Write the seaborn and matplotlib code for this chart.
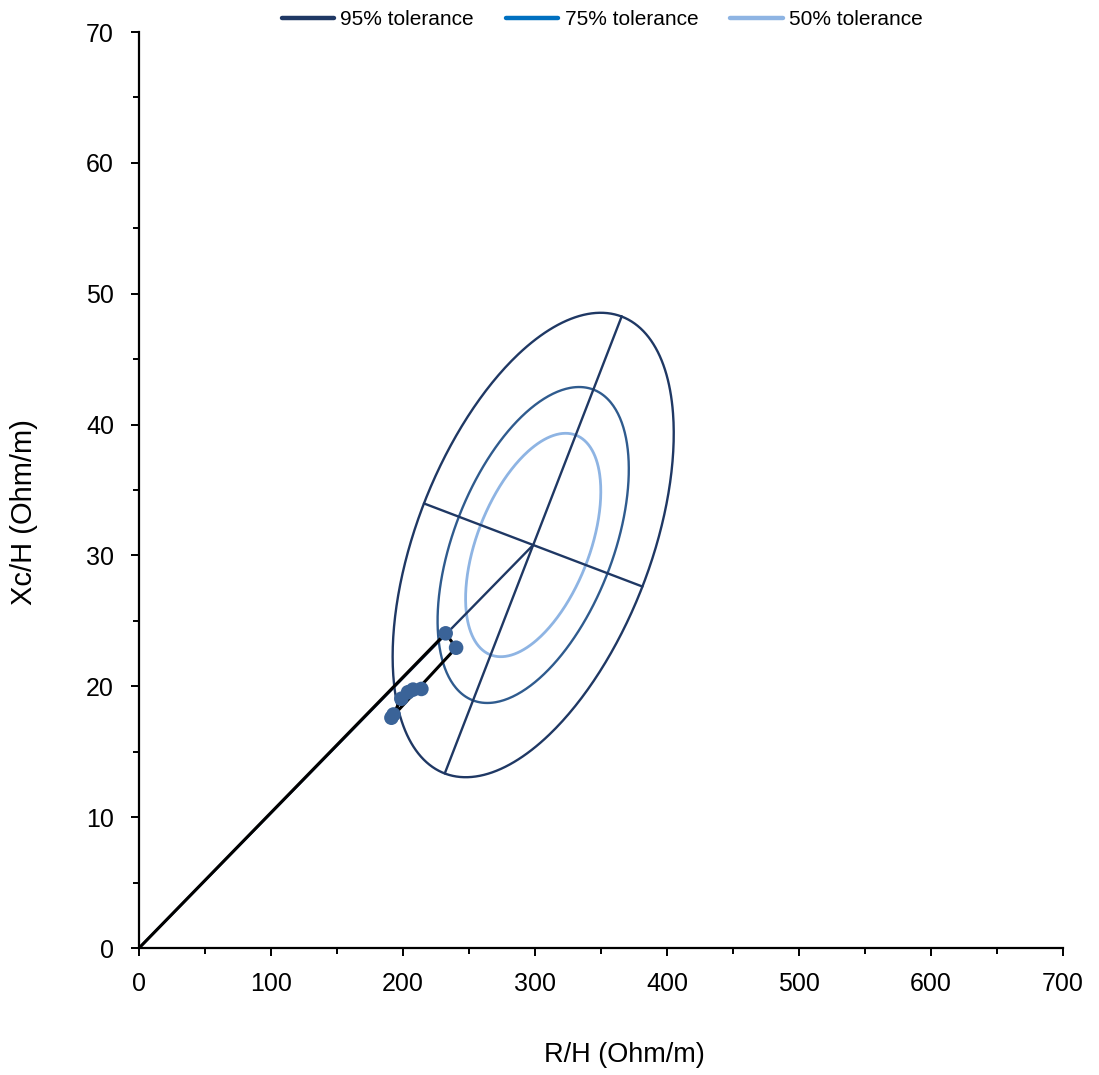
import numpy as np
import pandas as pd
import matplotlib
matplotlib.use("Agg")
import matplotlib.pyplot as plt
from matplotlib.lines import Line2D
from matplotlib.ticker import MultipleLocator
import seaborn as sns

# Reference population (R/H, Xc/H) statistics used for the tolerance ellipses
ref_mean_R = 298.6
ref_mean_Xc = 30.8
ref_sd_R = 43.5
ref_sd_Xc = 7.25
ref_corr = 0.48

tolerance_levels = [0.95, 0.75, 0.50]
tolerance_labels = ["95% tolerance", "75% tolerance", "50% tolerance"]
ellipse_colors = ["#1F3864", "#2F5B8E", "#8EB4E3"]
legend_colors = ["#1F3864", "#0070C0", "#8EB4E3"]

# Subject measurements (R/H, Xc/H) in Ohm/m
subject_R = [191.2, 192.8, 198.7, 203.8, 207.6, 213.9, 240.2, 232.3]
subject_Xc = [17.6, 17.85, 19.05, 19.55, 19.75, 19.8, 22.95, 24.05]

# Vector path: origin -> last visit -> previous -> first visit
path_R = [0.0, 232.3, 240.2, 191.2]
path_Xc = [0.0, 24.05, 22.95, 17.6]
# Follow-up trajectory through the clustered visits
trail_R = [191.2, 198.7, 203.8, 207.6, 213.9]
trail_Xc = [17.6, 19.05, 19.55, 19.75, 19.8]

sns.set_theme(style="white")
plt.rcParams["font.family"] = ["Liberation Sans", "DejaVu Sans"]
plt.rcParams["text.color"] = "black"
plt.rcParams["axes.labelcolor"] = "black"
plt.rcParams["xtick.color"] = "black"
plt.rcParams["ytick.color"] = "black"

fig = plt.figure(figsize=(10.99, 10.75), dpi=100)
ax = fig.add_axes([0.1265, 0.1181, 0.8408, 0.8521])

# Principal axes of the covariance in (R/10, Xc) space
scale = 10.0
sx = ref_sd_R / scale
cov = np.array([[sx ** 2, ref_corr * sx * ref_sd_Xc],
                [ref_corr * sx * ref_sd_Xc, ref_sd_Xc ** 2]])
evals, evecs = np.linalg.eigh(cov)
order = np.argsort(evals)[::-1]
evals, evecs = evals[order], evecs[:, order]


def ellipse_points(p, t):
    k = np.sqrt(-2.0 * np.log(1.0 - p))
    a = k * np.sqrt(evals[0])
    b = k * np.sqrt(evals[1])
    xs = a * np.cos(t) * evecs[0, 0] + b * np.sin(t) * evecs[0, 1]
    ys = a * np.cos(t) * evecs[1, 0] + b * np.sin(t) * evecs[1, 1]
    return ref_mean_R + xs * scale, ref_mean_Xc + ys


theta = np.linspace(0, 2 * np.pi, 400)
for p, col, lw in zip(tolerance_levels, ellipse_colors, [1.7, 1.7, 2.0]):
    ex, ey = ellipse_points(p, theta)
    sns.lineplot(x=ex, y=ey, sort=False, estimator=None, color=col,
                 linewidth=lw, ax=ax)

# Major and minor axes of the 95% ellipse
for t_pair in ([0.0, np.pi], [np.pi / 2, 3 * np.pi / 2]):
    axx, axy = ellipse_points(0.95, np.array(t_pair))
    ax.plot(axx, axy, color=ellipse_colors[0], linewidth=1.7)

# Mean vector of the reference population
ax.plot([0, ref_mean_R], [0, ref_mean_Xc], color=ellipse_colors[0], linewidth=1.7)

# Subject vectors
ax.plot(path_R, path_Xc, color="black", linewidth=2.2, zorder=4)
ax.plot(trail_R, trail_Xc, color="black", linewidth=2.2, zorder=4)
pts = pd.DataFrame({"R": subject_R, "Xc": subject_Xc})
sns.scatterplot(data=pts, x="R", y="Xc", color="#3A6398", s=110,
                edgecolor="none", ax=ax, zorder=5)

ax.set_xlim(0, 700)
ax.set_ylim(0, 70)
ax.xaxis.set_major_locator(MultipleLocator(100))
ax.xaxis.set_minor_locator(MultipleLocator(50))
ax.yaxis.set_major_locator(MultipleLocator(10))
ax.yaxis.set_minor_locator(MultipleLocator(5))
ax.tick_params(which="major", direction="out", length=6, width=1.4,
               labelsize=18, color="black", pad=11,
               bottom=True, left=True)
ax.tick_params(which="minor", direction="out", length=4, width=1.4,
               color="black", bottom=True, left=True)
ax.tick_params(axis="y", which="major", pad=12)

for side in ["top", "right"]:
    ax.spines[side].set_visible(False)
for side in ["left", "bottom"]:
    ax.spines[side].set_color("black")
    ax.spines[side].set_linewidth(1.6)

ax.set_xlabel("R/H (Ohm/m)", fontsize=19.5)
ax.set_ylabel("Xc/H (Ohm/m)", fontsize=21)
ax.xaxis.set_label_coords(0.525, -0.117)
ax.yaxis.set_label_coords(-0.124, 0.476)
ax.xaxis.label.set_va("center")
ax.yaxis.label.set_va("center")

handles = [Line2D([0], [0], color=c, linewidth=3.2) for c in legend_colors]
fig.legend(handles, tolerance_labels, loc="center", ncol=3,
           bbox_to_anchor=(0.548, 0.9814), frameon=False, fontsize=15,
           handlelength=2.5, handletextpad=0.3, columnspacing=1.55)

fig.savefig("out.png", dpi=100)
